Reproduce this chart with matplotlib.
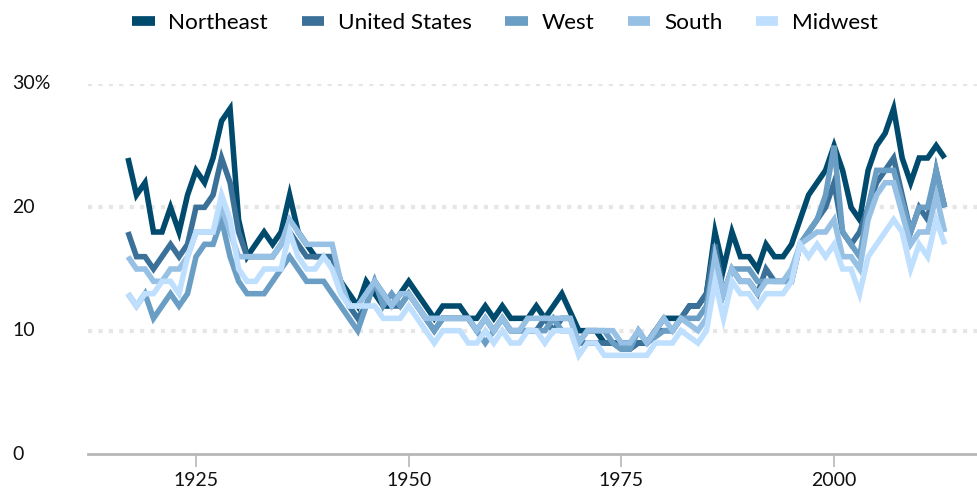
import matplotlib
matplotlib.use("Agg")
import matplotlib.pyplot as plt
import matplotlib.transforms as mtransforms
from matplotlib.lines import Line2D
import numpy as np

plt.rcParams['font.family'] = ['Lato', 'DejaVu Sans']

years = list(range(1917, 2014))

northeast = [24, 21, 22, 18, 18, 20, 18, 21, 23, 22,
             24, 27, 28, 19, 16, 17, 18, 17, 18, 21,
             18, 17, 16, 16, 16, 14, 13, 12, 14, 13,
             12, 12, 13, 14, 13, 12, 11, 12, 12, 12,
             11, 11, 12, 11, 12, 11, 11, 11, 12, 11,
             12, 13, 11.5, 10, 10, 10, 9, 9, 9, 9,
             9, 9, 10, 11, 11, 11, 12, 12, 13, 18,
             15, 18, 16, 16, 15, 17, 16, 16, 17, 19,
             21, 22, 23, 25, 23, 20, 19, 23, 25, 26,
             28, 24, 22, 24, 24, 25, 24]

united_states = [18, 16, 16, 15, 16, 17, 16, 17, 20, 20,
                 21, 24, 22, 18, 16, 16, 16, 16, 17, 18,
                 17, 16, 16, 16, 16, 14, 12, 11, 12, 14,
                 13, 12, 12, 13, 12, 11, 10, 11, 11, 11,
                 11, 10, 11, 10, 11, 10, 10, 10, 10, 11,
                 10, 11, 11, 9, 9, 9, 9, 9, 8.5, 8.5,
                 9, 9, 10, 10, 10, 11, 12, 12, 13, 17,
                 13, 15, 14, 14, 13, 15, 14, 14, 14, 17,
                 18, 19, 20, 22, 18, 17, 18, 20, 22, 23,
                 24, 21, 18, 20, 19, 23, 20]

west = [13, 12, 13, 11, 12, 13, 12, 13, 16, 17,
        17, 19, 16, 14, 13, 13, 13, 14, 15, 16,
        15, 14, 14, 14, 13, 12, 11, 10, 12, 14,
        12, 13, 12, 13, 12, 11, 10, 11, 11, 11,
        11, 10, 9, 10, 11, 10, 10, 10, 10, 10,
        11, 10, 10, 9, 10, 10, 10, 9, 8.5, 8.5,
        10, 9, 9.5, 10, 10, 11, 11, 11, 12, 16,
        13, 15, 15, 15, 14, 14, 14, 14, 14, 17,
        18, 19, 21, 25, 18, 17, 16, 20, 23, 23,
        23, 20.5, 18, 20, 20, 23, 20]

south = [16, 15, 15, 14, 14, 15, 15, 16, 18, 18,
         18, 20, 18, 16, 16, 16, 16, 16, 17, 19,
         18, 17, 17, 17, 17, 14, 12, 12, 13, 14,
         13, 12, 13, 13, 12, 11, 11, 11, 11, 11,
         11, 10, 11, 10, 11, 10, 10, 11, 11, 11,
         11, 11, 11, 9, 10, 10, 10, 10, 9, 9,
         10, 9, 10, 11, 10, 11, 10.5, 10, 11, 16,
         13, 15, 14, 14, 13, 14, 14, 14, 15, 17,
         17.5, 18, 18, 19, 16, 16, 15, 19, 21, 22,
         22, 19.5, 17, 18, 18, 21, 18]

midwest = [13, 12, 13, 13, 14, 14, 13, 16, 18, 18,
           18, 21, 19, 15, 14, 14, 15, 15, 15, 18,
           16, 15, 15, 16, 15, 13, 12, 12, 12, 12,
           11, 11, 11, 12, 11, 10, 9, 10, 10, 10,
           9, 9, 10, 9, 10, 9, 9, 10, 10, 9,
           10, 10, 10, 8, 9, 9, 8, 8, 8, 8,
           8, 8, 9, 9, 9, 10, 9.5, 9, 10, 14,
           11, 14, 13, 13, 12, 13, 13, 13, 14, 17,
           16, 17, 16, 17, 15, 15, 13, 16, 17, 18,
           19, 18, 15, 17, 16, 19, 17]

series = ['Northeast', 'United States', 'West', 'South', 'Midwest']
values = [northeast, united_states, west, south, midwest]
colors = ['#004a6d', '#3b7198', '#6b9ec4', '#96c0e4', '#bfdfff']

xticks = [1925, 1950, 1975, 2000]
yticks = [0, 10, 20, 30]
ylabels = ['0', '10', '20', '30%']

fig = plt.figure(figsize=(9.77, 4.92), dpi=100)
ax = fig.add_axes([88 / 977, 1 - 454 / 492, 1 - 88 / 977, 370 / 492])

# dotted gridlines
for y in yticks[1:]:
    ax.axhline(y, color='#e6e6e6', lw=3, linestyle=(0, (1, 1.5)), zorder=0)
ax.axhline(0, color='#b8b8b8', lw=2, zorder=1, clip_on=False)

for name, vals, c in zip(series, values, colors):
    ax.plot(years, vals, color=c, lw=4, label=name, zorder=3,
            solid_joinstyle='miter', solid_capstyle='butt')

ax.set_xlim(1912.3, 2016.8)
ax.set_ylim(0, 30)
for s in ax.spines.values():
    s.set_visible(False)

ax.set_xticks(xticks)
ax.set_xticklabels([str(t) for t in xticks])
ax.tick_params(axis='x', length=9, width=1.2, color='#b8b8b8', pad=4,
               labelsize=14, labelcolor='#111111')
ax.set_yticks([])

trans = mtransforms.blended_transform_factory(fig.transFigure, ax.transData)
for y, lab in zip(yticks, ylabels):
    fig.text(12 / 977, y, lab, transform=trans, ha='left', va='center',
             fontsize=14, color='#111111')

handles = [Line2D([0], [0], color=c, lw=7, solid_capstyle='butt') for c in colors]
fig.legend(handles, series, loc='center', bbox_to_anchor=(0.517, 1 - 23 / 492),
           ncol=5, frameon=False, fontsize=16.2, handlelength=1.0,
           handletextpad=0.6, columnspacing=1.5)

fig.savefig('out.png', dpi=100)
